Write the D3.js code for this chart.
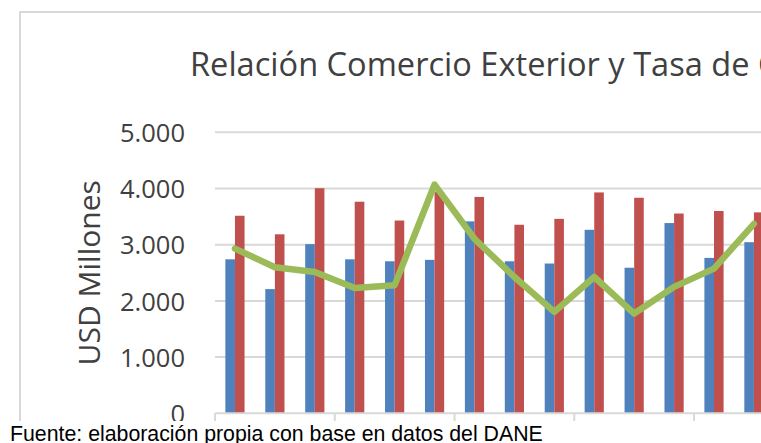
<!DOCTYPE html>
<html>
<head>
<meta charset="utf-8">
<script src="https://cdn.jsdelivr.net/npm/d3@7"></script>
<style>
  html, body { margin: 0; padding: 0; background: #fff; overflow: hidden; }
  svg { display: block; }
</style>
</head>
<body>
<svg id="chart"></svg>
<script>
// periods (axis labels are cut off in the source image)
const categories = ["P1", "P2", "P3", "P4", "P5", "P6", "P7", "P8", "P9", "P10", "P11", "P12", "P13", "P14"];
const seriesNames = ["Exportaciones", "Importaciones"];
const exportaciones = [2740, 2210, 3010, 2740, 2705, 2730, 3415, 2705, 2665, 3265, 2590, 3385, 2765, 3045];
const importaciones = [3515, 3185, 4005, 3765, 3430, 3935, 3850, 3355, 3460, 3930, 3835, 3555, 3600, 3575];
const tasaCambio = [2930, 2600, 2515, 2230, 2280, 4070, 3105, 2425, 1805, 2425, 1775, 2250, 2575, 3370];
const yTicks = [0, 1000, 2000, 3000, 4000, 5000];

const W = 761, H = 443;
const svg = d3.select("#chart").attr("width", W).attr("height", H);

const plot = { left: 215, top: 132.3, bottom: 413.3 };
const step = 39.92;

const x = d3.scaleBand()
    .domain(categories)
    .range([plot.left, plot.left + categories.length * step])
    .padding(0);

const xs = d3.scaleBand()
    .domain(seriesNames)
    .range([0, x.bandwidth()])
    .paddingInner(0)
    .paddingOuter(1.08);

const y = d3.scaleLinear().domain([0, 5000]).range([plot.bottom, plot.top]);

const fmt = v => d3.format(",")(v).replace(/,/g, ".");

// chart frame
svg.append("rect")
    .attr("x", 20).attr("y", 12)
    .attr("width", 900).attr("height", 500)
    .style("fill", "none")
    .style("stroke", "#d9d9d9")
    .style("stroke-width", 2);

// title
svg.append("text")
    .attr("x", 190).attr("y", 76)
    .style("font-family", "'Open Sans', sans-serif")
    .style("font-size", "32.6px")
    .style("fill", "#404040")
    .text("Relación Comercio Exterior y Tasa de Cambio");

// gridlines
svg.append("g").selectAll("line")
    .data(yTicks.filter(d => d > 0))
    .join("line")
    .attr("x1", plot.left).attr("x2", W + 20)
    .attr("y1", d => y(d)).attr("y2", d => y(d))
    .style("stroke", "#d9d9d9")
    .style("stroke-width", 2);

// y axis labels
const yAxis = svg.append("g")
    .attr("transform", `translate(${plot.left - 30},0)`)
    .call(d3.axisLeft(y).tickValues(yTicks).tickFormat(fmt).tickSize(0).tickPadding(0));
yAxis.select(".domain").remove();
yAxis.selectAll("text")
    .attr("dy", "0.36em")
    .style("font-family", "'Open Sans', sans-serif")
    .style("font-size", "25.5px")
    .style("fill", "#404040");

// y axis title
svg.append("text")
    .attr("transform", `translate(100,${(plot.top + plot.bottom) / 2}) rotate(-90)`)
    .attr("text-anchor", "middle")
    .style("font-family", "'Open Sans', sans-serif")
    .style("font-size", "30px")
    .style("fill", "#404040")
    .text("USD Millones");

// bars
const groups = svg.append("g").selectAll("g")
    .data(categories)
    .join("g")
    .attr("transform", d => `translate(${x(d)},0)`);

groups.append("rect")
    .attr("x", xs("Exportaciones"))
    .attr("width", xs.bandwidth())
    .attr("y", (d, i) => y(exportaciones[i]))
    .attr("height", (d, i) => y(0) - y(exportaciones[i]))
    .style("fill", "#4f81bd");

groups.append("rect")
    .attr("x", xs("Importaciones"))
    .attr("width", xs.bandwidth())
    .attr("y", (d, i) => y(importaciones[i]))
    .attr("height", (d, i) => y(0) - y(importaciones[i]))
    .style("fill", "#c0504d");

// x axis line + ticks every 3 periods
svg.append("line")
    .attr("x1", plot.left).attr("x2", W + 20)
    .attr("y1", plot.bottom).attr("y2", plot.bottom)
    .style("stroke", "#d9d9d9")
    .style("stroke-width", 2);

svg.append("g").selectAll("line")
    .data(categories.filter((d, i) => i % 3 === 0))
    .join("line")
    .attr("x1", d => x(d)).attr("x2", d => x(d))
    .attr("y1", plot.bottom).attr("y2", plot.bottom + 8)
    .style("stroke", "#d9d9d9")
    .style("stroke-width", 2);

// exchange rate line
const line = d3.line()
    .x((d, i) => x(categories[i]) + x.bandwidth() / 2)
    .y(d => y(d));

svg.append("path")
    .datum(tasaCambio)
    .attr("d", line)
    .style("fill", "none")
    .style("stroke", "#9bbb59")
    .style("stroke-width", 6.5)
    .style("stroke-linejoin", "round")
    .style("stroke-linecap", "round");

// source note
svg.append("rect")
    .attr("x", 0).attr("y", 421)
    .attr("width", W).attr("height", H - 421)
    .style("fill", "#fff");

svg.append("text")
    .attr("x", 10).attr("y", 441)
    .style("font-family", "'Liberation Sans', Arial, sans-serif")
    .style("font-size", "21.3px")
    .style("fill", "#000")
    .text("Fuente: elaboración propia con base en datos del DANE");
</script>
</body>
</html>
